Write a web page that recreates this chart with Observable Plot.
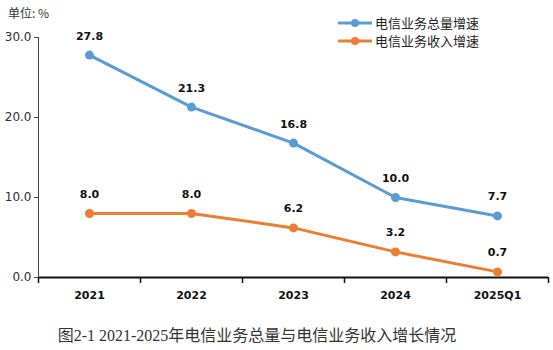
<!DOCTYPE html>
<html>
<head>
<meta charset="utf-8">
<script src="https://cdn.jsdelivr.net/npm/d3@7"></script>
<script src="https://cdn.jsdelivr.net/npm/@observablehq/plot@0.6"></script>
<style>
  html, body { margin: 0; padding: 0; background: #fff; }
  #wrap { position: relative; width: 553px; height: 350px; overflow: hidden; font-family: "Noto Sans CJK SC", "DejaVu Sans", sans-serif; }
  #unit { position: absolute; left: 8px; top: 4px; font-size: 12px; color: #333; }
  #legend { position: absolute; left: 338px; top: 14px; font-size: 13px; color: #222; line-height: 18px; }
  #legend div { display: flex; align-items: center; }
  #legend svg { margin-right: 3px; }
  #caption { position: absolute; left: 0; width: 514px; top: 322px; text-align: center; font-size: 16px; color: #333; font-family: "Liberation Serif", "Noto Sans CJK SC", serif; }
  #chart { position: absolute; left: 0; top: 0; }
</style>
</head>
<body>
<div id="wrap">
  <div id="chart"></div>
  <div id="unit">单位: %</div>
  <div id="legend"></div>
  <div id="caption">图2-1 2021-2025年电信业务总量与电信业务收入增长情况</div>
</div>
<script>
const categories = ["2021", "2022", "2023", "2024", "2025Q1"];
const totalVolumeGrowth = [27.8, 21.3, 16.8, 10.0, 7.7];
const revenueGrowth = [8.0, 8.0, 6.2, 3.2, 0.7];
const seriesNames = ["电信业务总量增速", "电信业务收入增速"];
const seriesColors = ["#5b9bd5", "#ed7d31"];
const yTicks = [0, 10, 20, 30];

const rows = [];
categories.forEach((c, i) => {
  rows.push({cat: c, idx: i + 0.5, value: totalVolumeGrowth[i], series: seriesNames[0]});
  rows.push({cat: c, idx: i + 0.5, value: revenueGrowth[i], series: seriesNames[1]});
});

const chart = Plot.plot({
  width: 553,
  height: 315,
  marginLeft: 38,
  marginRight: 5,
  marginTop: 37,
  marginBottom: 38,
  style: {fontFamily: "DejaVu Sans, sans-serif", background: "transparent"},
  x: {type: "linear", domain: [0, categories.length]},
  y: {domain: [0, 30]},
  color: {domain: seriesNames, range: seriesColors},
  marks: [
    Plot.ruleX([0], {y1: 0, y2: 30, stroke: "#444", strokeWidth: 1}),
    Plot.axisY({ticks: yTicks, tickSize: 4, tickPadding: 3, tickFormat: d => d.toFixed(1), fontSize: 12, fill: "#2a3040", stroke: "#444", label: null}),
    Plot.axisX({ticks: d3.range(categories.length + 1), tickSize: 6, tickFormat: () => "", stroke: "#111", strokeWidth: 1.5, label: null}),
    Plot.axisX({ticks: categories.map((c, i) => i + 0.5), tickSize: 0, tickPadding: 14, tickFormat: v => categories[Math.round(v - 0.5)], fontSize: 11, fontWeight: "bold", fill: "#111", label: null}),
    Plot.ruleY([0], {stroke: "#111", strokeWidth: 2}),
    Plot.line(rows, {x: "idx", y: "value", z: "series", stroke: "series", strokeWidth: 3}),
    Plot.dot(rows, {x: "idx", y: "value", fill: "series", r: 4.5}),
    Plot.text(rows, {x: "idx", y: "value", text: d => d.value.toFixed(1), dy: -19, fontSize: 11, fontWeight: "bold", fill: "#111"})
  ]
});
document.getElementById("chart").appendChild(chart);

const legend = document.getElementById("legend");
seriesNames.forEach((name, i) => {
  const row = document.createElement("div");
  row.innerHTML = `<svg width="34" height="10"><line x1="0" x2="34" y1="5" y2="5" stroke="${seriesColors[i]}" stroke-width="3"/><circle cx="17" cy="5" r="4" fill="${seriesColors[i]}"/></svg><span>${name}</span>`;
  legend.appendChild(row);
});
</script>
</body>
</html>
